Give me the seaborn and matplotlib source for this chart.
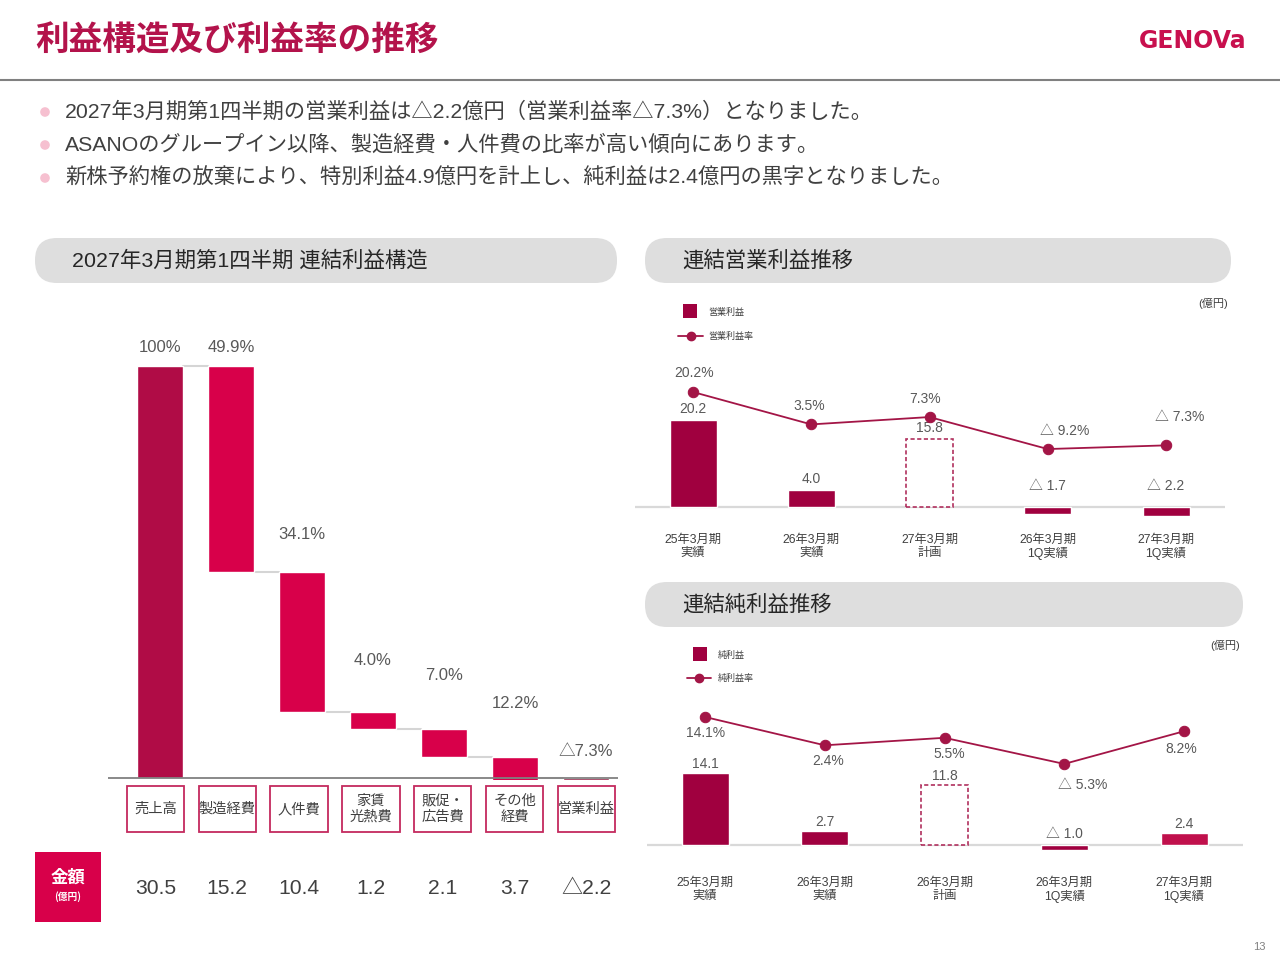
import numpy as np
import pandas as pd
import matplotlib
matplotlib.use("Agg")
import matplotlib.pyplot as plt
import matplotlib.transforms as mtrans
from matplotlib.patches import FancyBboxPatch, Rectangle, Circle
import seaborn as sns

# ---------------- data ----------------
title = "利益構造及び利益率の推移"
bullets = [
    "2027年3月期第1四半期の営業利益は△2.2億円（営業利益率△7.3%）となりました。",
    "ASANOのグループイン以降、製造経費・人件費の比率が高い傾向にあります。",
    "新株予約権の放棄により、特別利益4.9億円を計上し、純利益は2.4億円の黒字となりました。",
]
panel_titles = ["2027年3月期第1四半期 連結利益構造", "連結営業利益推移", "連結純利益推移"]

wf_categories = ["売上高", "製造経費", "人件費", "家賃\n光熱費", "販促・\n広告費", "その他\n経費", "営業利益"]
wf_amounts = [30.5, 15.2, 10.4, 1.2, 2.1, 3.7, -2.2]
wf_ratios = [100.0, 49.9, 34.1, 4.0, 7.0, 12.2, -7.3]

op_periods = ["25年3月期\n実績", "26年3月期\n実績", "27年3月期\n計画", "26年3月期\n1Q実績", "27年3月期\n1Q実績"]
op_profit = [20.2, 4.0, 15.8, -1.7, -2.2]
op_margin = [20.2, 3.5, 7.3, -9.2, -7.3]
op_legend = ["営業利益", "営業利益率"]

net_periods = ["25年3月期\n実績", "26年3月期\n実績", "26年3月期\n計画", "26年3月期\n1Q実績", "27年3月期\n1Q実績"]
net_profit = [14.1, 2.7, 11.8, -1.0, 2.4]
net_margin = [14.1, 2.4, 5.5, -5.3, 8.2]
net_legend = ["純利益", "純利益率"]

unit_label = "(億円)"
page_no = "13"

# ---------------- style ----------------
sns.set_theme(style="white")
plt.rcParams["font.family"] = ["Liberation Sans", "Noto Sans CJK JP", "DejaVu Sans"]
plt.rcParams["axes.unicode_minus"] = False

W, H = 1280, 960
fig = plt.figure(figsize=(12.8, 9.6), dpi=100)
bg = fig.add_axes([0, 0, 1, 1], zorder=0)
bg.set_xlim(0, W)
bg.set_ylim(H, 0)
bg.axis("off")

TXT = "#404040"
LAB = "#595959"
MAROON = "#A0003F"
LINE_C = "#A31546"


def px_axes(x0, y0, x1, y1):
    a = fig.add_axes([x0 / W, 1 - y1 / H, (x1 - x0) / W, (y1 - y0) / H], zorder=2)
    a.patch.set_alpha(0)
    return a


def tri(v, space=""):
    return ("△" + space + f"{abs(v):.1f}") if v < 0 else f"{v:.1f}"


# ---------------- header ----------------
bg.text(35, 41, title, fontsize=24.2, fontweight="bold", color="#B3134B", va="center",
        family=["Noto Sans CJK JP"])
bg.text(1246, 41, "GENOVa", fontsize=17, fontweight="bold", color="#C8104E",
        ha="right", va="center", family=["DejaVu Sans"])
bg.plot([0, W], [80, 80], color="#808080", lw=1.5)
for k, b in enumerate(bullets):
    y = 112 + 33 * k
    bg.add_patch(Circle((45, y), 4.8, color="#F6C0D0", ec="none"))
    bg.text(65, y, b, fontsize=15.3, color=TXT, va="center")

# panel pills
for (x0, y0, w, h), t in zip([(35, 238, 582, 45), (645, 238, 586, 45), (645, 582, 598, 45)], panel_titles):
    bg.add_patch(FancyBboxPatch((x0, y0), w, h, boxstyle="round,pad=0,rounding_size=22",
                                fc="#DEDEDE", ec="none"))
    bg.text(x0 + 37, y0 + h / 2, t, fontsize=15.4, color="#262626", va="center")

# ---------------- waterfall ----------------
axw = px_axes(108, 330, 618, 780)
c0, step, base, sc = 160, 71.0, 778, 4.12
n = len(wf_ratios)
xs = np.arange(n)
tops, bots = [], []
running = 0.0
for i, r in enumerate(wf_ratios):
    if i == 0:
        b, t = 0.0, r
        running = r
    elif i == n - 1:
        b, t = min(0.0, r), max(0.0, r)
    else:
        t = running
        b = running - r
        running = b
    tops.append(t)
    bots.append(b)
tops, bots = np.array(tops), np.array(bots)
colors_w = ["#B00C46"] + ["#D8004A"] * (n - 2) + ["#9A2F50"]
axw.bar(xs, tops - bots, bottom=bots, width=0.66, color=colors_w, zorder=2)
# connectors
for i in range(n - 1):
    lvl = max(bots[i], 0.0) if i > 0 else tops[i]
    axw.plot([i + 0.33, i + 1 - 0.33], [lvl, lvl], color="#D5D5D5", lw=1.5, zorder=1)
axw.axhline(0, color="#808080", lw=1.3, zorder=3)
axw.set_xlim((108 - c0) / step, (618 - c0) / step)
axw.set_ylim((base - 780) / sc, (base - 330) / sc)
axw.axis("off")

lab_off = [18, 18, 37, 52, 53, 54, 26]
for i, r in enumerate(wf_ratios):
    txt = ("△" + f"{abs(r):.1f}%") if r < 0 else (f"{r:.0f}%" if r == 100 else f"{r:.1f}%")
    axw.annotate(txt, (i, max(tops[i], 0.0)), xytext=(0, lab_off[i]), textcoords="offset pixels",
                 ha="center", va="center", fontsize=12, color=LAB)

blend = mtrans.blended_transform_factory(axw.transData, bg.transData)
box_step, box_shift = 71.8 / step, -4.5 / step
for i, c in enumerate(wf_categories):
    xc = i * box_step + box_shift
    bg.add_patch(Rectangle((xc - 0.405, 786), 0.81, 46, transform=blend, fill=False,
                           ec="#C42A5E", lw=1.3, clip_on=False))
    bg.text(xc, 809, c, transform=blend, ha="center", va="center", fontsize=10.3,
            color=TXT, linespacing=1.15)
    bg.text(xc, 888, tri(wf_amounts[i]), transform=blend, ha="center", va="center",
            fontsize=15.2, color=TXT)

bg.add_patch(Rectangle((35, 852), 66, 70, fc="#D8004A", ec="none"))
bg.text(68, 878, "金額", ha="center", va="center", fontsize=12.5, color="white",
        fontweight="bold", family=["Noto Sans CJK JP"])
bg.text(68, 897, unit_label, ha="center", va="center", fontsize=7, color="white",
        fontweight="bold", family=["Noto Sans CJK JP"])


# ---------------- combo charts ----------------
def combo(x0, x1, y0, y1, base_px, c0, step, bscale, r0_px, rscale, periods, profit, margin,
          bar_colors, pos_off, neg_off, rate_offs, tick_pad):
    ax = px_axes(x0, y0, x1, y1)
    df = pd.DataFrame({"period": periods, "value": profit})
    sns.barplot(data=df, x="period", y="value", hue="period", palette=bar_colors,
                legend=False, width=47 / step, saturation=1, ax=ax, zorder=2)
    plan = ax.patches[2]
    plan.set_facecolor("white")
    plan.set_edgecolor("#B0305E")
    plan.set_linestyle((0, (2.5, 1.5)))
    plan.set_linewidth(1.2)
    ax.axhline(0, color="#D9D9D9", lw=1.6, zorder=1)
    ax2 = ax.twinx()
    ax2.patch.set_alpha(0)
    sns.lineplot(x=np.arange(len(margin)), y=margin, ax=ax2, color=LINE_C, lw=1.3,
                 marker="o", markersize=7.5, markeredgecolor=LINE_C)
    xl = ((x0 - c0) / step, (x1 - c0) / step)
    ax.set_xlim(*xl)
    ax2.set_xlim(*xl)
    ax.set_ylim((base_px - y1) / bscale, (base_px - y0) / bscale)
    ax2.set_ylim((r0_px - y1) / rscale, (r0_px - y0) / rscale)
    for a in (ax, ax2):
        for s in a.spines.values():
            s.set_visible(False)
        a.set_yticks([])
        a.set_ylabel("")
    ax.set_xlabel("")
    ax.set_xticks(range(len(periods)))
    ax.set_xticklabels(periods, fontsize=8.8, color=TXT, linespacing=1.1)
    ax.tick_params(axis="x", length=0, pad=tick_pad)
    for i, v in enumerate(profit):
        if v >= 0:
            ax.annotate(tri(v, " "), (i, v), xytext=(0, pos_off), textcoords="offset pixels",
                        ha="center", va="center", fontsize=10, color=LAB)
        else:
            ax.annotate(tri(v, " "), (i, 0), xytext=(0, neg_off), textcoords="offset pixels",
                        ha="center", va="center", fontsize=10, color=LAB)
    for i, m in enumerate(margin):
        t = ("△ " + f"{abs(m):.1f}%") if m < 0 else f"{m:.1f}%"
        ax2.annotate(t, (i, m), xytext=rate_offs[i], textcoords="offset pixels",
                     ha="center", va="center", fontsize=10, color=LAB, zorder=5)
    return ax, ax2


combo(635, 1225, 360, 525, 507, 693, 118.25, 4.3, 431.2, 1.94,
      op_periods, op_profit, op_margin, [MAROON] * 5, 11, 21,
      [(1, 19), (-2, 18), (-4, 18), (17, 18), (14, 28)], 6.5)
combo(647, 1243, 700, 865, 845, 705, 119.75, 5.1, 751.1, 2.42,
      net_periods, net_profit, net_margin, [MAROON] * 4 + ["#C0104C"], 9, 11,
      [(1, -16), (3, -16), (5, -16), (18, -21), (-3, -18)], 8.5)


# legends and unit labels
def legend(xsq, ysq, xl0, xl1, yl, labels, xtext, unit_x, unit_y):
    bg.add_patch(Rectangle((xsq - 7, ysq - 7), 14, 14, fc=MAROON, ec="none"))
    bg.text(xtext, ysq + 1, labels[0], fontsize=6.5, color=TXT, va="center")
    bg.plot([xl0, xl1], [yl, yl], color=LINE_C, lw=1.3)
    bg.plot([(xl0 + xl1) / 2], [yl], "o", color=LINE_C, ms=6)
    bg.text(xtext, yl, labels[1], fontsize=6.5, color=TXT, va="center")
    bg.text(unit_x, unit_y, unit_label, fontsize=8, color=TXT, ha="right", va="center")


legend(690, 311, 678, 703, 336, op_legend, 708, 1228, 303)
legend(700, 654, 687, 711, 678, net_legend, 718, 1240, 645)

bg.text(1266, 947, page_no, fontsize=8, color="#808080", ha="right", va="center")

fig.savefig("out.png", dpi=100)
